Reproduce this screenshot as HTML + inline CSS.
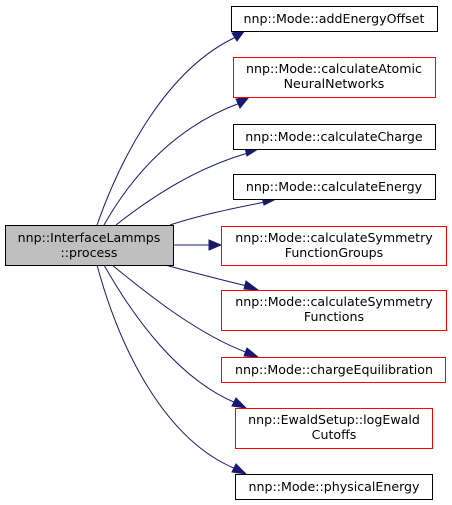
<!DOCTYPE html>
<html><head><meta charset="utf-8"><style>
html,body{margin:0;padding:0;background:#fff;}
svg{display:block;}
text{font-family:"DejaVu Sans","Liberation Sans",sans-serif;font-size:12.6px;fill:#000;text-anchor:middle;}
.e{fill:none;stroke:#191970;stroke-width:1;}
.a{fill:#191970;stroke:#191970;}
</style></head><body>
<svg width="452" height="505" viewBox="0 0 452 505" xmlns="http://www.w3.org/2000/svg">
<path class="e" d="M97,225 C120,160 165,70 236,37"/>
<polygon class="a" points="232,33 245,30 237,41"/>
<path class="e" d="M104,225 C135,170 180,125 240,103"/>
<polygon class="a" points="236,99 249,97 240,108"/>
<path class="e" d="M116,225 C150,198 195,168 248,153"/>
<polygon class="a" points="245,148 258,149 247,156"/>
<path class="e" d="M170,225 C200,215 235,208 265,202"/>
<polygon class="a" points="262,197 276,199 264,205"/>
<path class="e" d="M173,245 L210,245"/>
<polygon class="a" points="209,240 221,245 209,250"/>
<path class="e" d="M165,265 C195,273 222,280 247,286"/>
<polygon class="a" points="246,281 258,290 244,289"/>
<path class="e" d="M112,265 C155,300 200,335 248,353"/>
<polygon class="a" points="247,348 258,357 244,356"/>
<path class="e" d="M104,265 C135,320 180,380 236,403"/>
<polygon class="a" points="236,398 246,408 232,406"/>
<path class="e" d="M97,265 C120,350 165,440 236,469"/>
<polygon class="a" points="236,464 246,474 232,472"/>
<rect x="5.5" y="225.5" width="168" height="40" fill="#bfbfbf" stroke="#000"/>
<text x="89" y="242">nnp::InterfaceLammps</text>
<text x="89" y="257">::process</text>
<rect x="231.5" y="6.5" width="206" height="25" fill="#fff" stroke="#000"/>
<text x="334" y="23">nnp::Mode::addEnergyOffset</text>
<rect x="233.5" y="57.5" width="202" height="40" fill="#fff" stroke="#f00"/>
<text x="334" y="73">nnp::Mode::calculateAtomic</text>
<text x="334" y="88">NeuralNetworks</text>
<rect x="233.5" y="124.5" width="202" height="25" fill="#fff" stroke="#000"/>
<text x="334" y="141">nnp::Mode::calculateCharge</text>
<rect x="233.5" y="174.5" width="202" height="25" fill="#fff" stroke="#000"/>
<text x="334" y="191">nnp::Mode::calculateEnergy</text>
<rect x="221.5" y="226.5" width="225" height="39" fill="#fff" stroke="#f00"/>
<text x="334" y="242">nnp::Mode::calculateSymmetry</text>
<text x="334" y="257">FunctionGroups</text>
<rect x="221.5" y="290.5" width="225" height="40" fill="#fff" stroke="#f00"/>
<text x="334" y="306">nnp::Mode::calculateSymmetry</text>
<text x="334" y="321">Functions</text>
<rect x="221.5" y="357.5" width="224" height="25" fill="#fff" stroke="#f00"/>
<text x="334" y="374">nnp::Mode::chargeEquilibration</text>
<rect x="235.5" y="408.5" width="197" height="40" fill="#fff" stroke="#f00"/>
<text x="334" y="424">nnp::EwaldSetup::logEwald</text>
<text x="334" y="439">Cutoffs</text>
<rect x="235.5" y="474.5" width="197" height="25" fill="#fff" stroke="#000"/>
<text x="334" y="491">nnp::Mode::physicalEnergy</text>
</svg>
</body></html>
